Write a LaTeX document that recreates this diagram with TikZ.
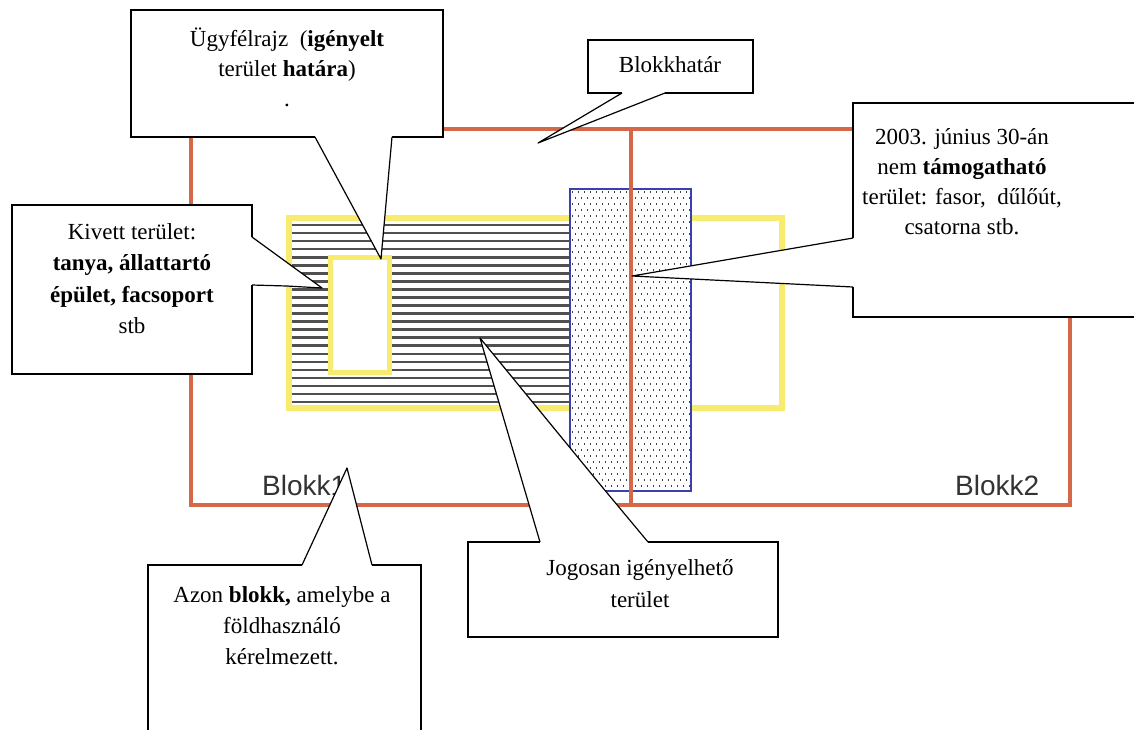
\documentclass[tikz,border=0pt]{standalone}
\usepackage{fontspec}
\setmainfont{Liberation Serif}
\newfontfamily\sansf{Liberation Sans}
\definecolor{blokk}{RGB}{212,104,72}
\definecolor{ylw}{RGB}{248,236,110}
\definecolor{hatch}{RGB}{80,80,80}
\definecolor{blu}{RGB}{60,64,170}
\begin{document}
\begin{tikzpicture}[x=1pt,y=-1pt,
  boxedge/.style={draw=black,line width=2.4pt,line join=miter},
  pointer/.style={draw=black,line width=1.2pt,line join=round},
  callfill/.style={fill=white},
  ctext/.style={inner sep=0pt,align=center,anchor=north},
  blabel/.style={inner sep=0pt,anchor=base west,font=\sansf\fontsize{28}{28}\selectfont,text=black!80}]
\useasboundingbox (0,0) rectangle (1134,729);
\fill[white] (0,0) rectangle (1134,729);

% igényelt terület (yellow border + hatching)
\draw[ylw,line width=6pt] (289,218) rectangle (782,408);
\foreach \k in {0,...,22}
  \draw[hatch,line width=2.6pt] (292,{225+8.05*\k}) -- (572,{225+8.05*\k});
% kivett terület
\draw[ylw,line width=5pt,fill=white] (330,257) rectangle (389,372);

% nem támogatható terület (dotted)
\fill[white] (570,189) rectangle (691,491);
\foreach \j in {0,...,49}{
  \foreach \i in {0,...,19}{
    \fill[black!75] ({572+6*\i+3*mod(\j,2)},{191+6*\j}) rectangle ++(1.3,2);
  }
}
\draw[blu,line width=1.5pt] (570,189) rectangle (691,491);

% blocks
\draw[blokk,line width=4pt] (191,129) rectangle (1070,505);
\draw[blokk,line width=4pt] (631,129) -- (631,505);
\node[blabel] (b1) at (262,495) {Blokk1};
\node[blabel] (b2) at (955,495) {Blokk2};

% callout: Ügyfélrajz
\coordinate (t1) at (381,259);
\fill[callfill] (131,10) -- (443,10) -- (443,137) -- (392,137) -- (t1) -- (315,137) -- (131,137) -- cycle;
\draw[boxedge] (315,137) -- (131,137) -- (131,10) -- (443,10) -- (443,137) -- (392,137);
\draw[pointer] (315,137) -- (t1) -- (392,137);
\node[ctext,font=\fontsize{23}{30}\selectfont] (c1) at (287,24)
  {\rule{0pt}{22pt}Ügyfélrajz\ \ (\textbf{igényelt}\\terület \textbf{határa})\\.};

% callout: Blokkhatár
\coordinate (t2) at (538,143);
\fill[callfill] (588,40) -- (753,40) -- (753,93) -- (665,93) -- (t2) -- (622,93) -- (588,93) -- cycle;
\draw[boxedge] (622,93) -- (588,93) -- (588,40) -- (753,40) -- (753,93) -- (665,93);
\draw[pointer] (622,93) -- (t2) -- (665,93);
\node[inner sep=0pt,anchor=base,font=\fontsize{23}{30}\selectfont] (c2) at (670,72) {Blokkhatár};

% callout: 2003. június 30-án
\coordinate (t3) at (632,276);
\fill[callfill] (853,103) -- (1150,103) -- (1150,317) -- (853,317) -- (853,287) -- (t3) -- (853,238) -- cycle;
\draw[boxedge] (853,238) -- (853,103) -- (1150,103);
\draw[boxedge] (1150,317) -- (853,317) -- (853,287);
\draw[pointer] (853,238) -- (t3) -- (853,287);
\node[ctext,font=\fontsize{23}{30}\selectfont] (c3) at (962,122)
  {\rule{0pt}{22pt}2003. június 30-án\\nem \textbf{támogatható}\\terület: fasor,\ \ dűlőút,\\csatorna stb.};

% callout: Kivett terület
\coordinate (t4) at (322,288);
\fill[callfill] (12,205) -- (252,205) -- (252,237) -- (t4) -- (287,286) -- (252,285) -- (252,374) -- (12,374) -- cycle;
\draw[boxedge] (252,237) -- (252,205) -- (12,205) -- (12,374) -- (252,374) -- (252,285);
\draw[pointer] (252,237) -- (t4) -- (287,286) -- (252,285);
\node[ctext,font=\fontsize{23}{31.5}\selectfont] (c4) at (132,217)
  {\rule{0pt}{22pt}Kivett terület:\\\textbf{tanya, állattartó}\\\textbf{épület, facsoport}\\stb};

% callout: Azon blokk
\coordinate (t5) at (347,468);
\fill[callfill] (148,565) -- (302,565) -- (t5) -- (372,565) -- (421,565) -- (421,740) -- (148,740) -- cycle;
\draw[boxedge] (302,565) -- (148,565) -- (148,740);
\draw[boxedge] (372,565) -- (421,565) -- (421,740);
\draw[pointer] (302,565) -- (t5) -- (372,565);
\node[ctext,font=\fontsize{23}{31}\selectfont] (c5) at (282,580)
  {\rule{0pt}{22pt}Azon \textbf{blokk,} amelybe a\\földhasználó\\kérelmezett.};

% callout: Jogosan igényelhető terület
\coordinate (t6) at (480,338);
\fill[callfill] (468,542) -- (540,542) -- (t6) -- (603,488) -- (648,542) -- (778,542) -- (778,637) -- (468,637) -- cycle;
\draw[boxedge] (540,542) -- (468,542) -- (468,637) -- (778,637) -- (778,542) -- (648,542);
\draw[pointer] (540,542) -- (t6) -- (603,488) -- (648,542);
\node[ctext,font=\fontsize{23}{32}\selectfont] (c6) at (640,553)
  {\rule{0pt}{22pt}Jogosan igényelhető\\terület};
\end{tikzpicture}
\end{document}
